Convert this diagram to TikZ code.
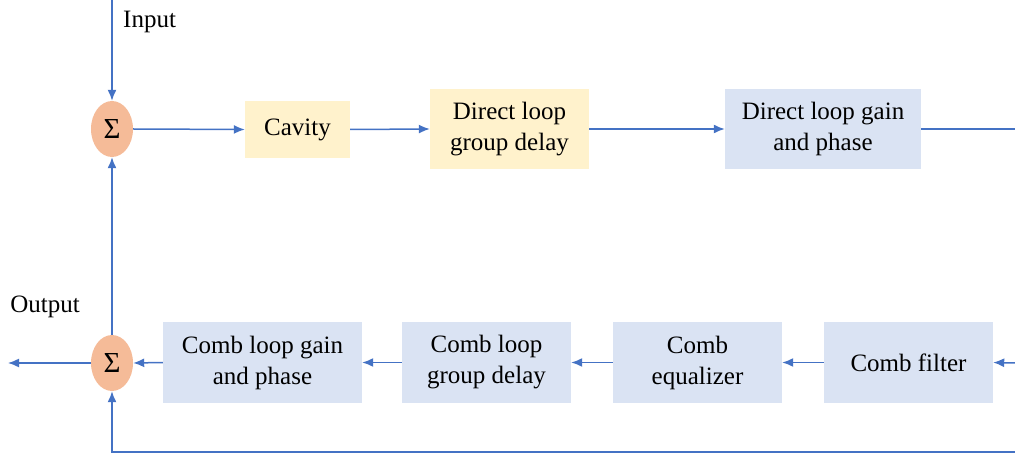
\documentclass[tikz,border=0pt]{standalone}
\usepackage{fontspec}
\newfontfamily\diagfont{Liberation Serif}
\usetikzlibrary{shapes.geometric,arrows.meta}
\definecolor{wire}{HTML}{4472C4}
\definecolor{sumfill}{HTML}{F5BB98}
\definecolor{yellowbox}{HTML}{FFF2CC}
\definecolor{bluebox}{HTML}{DAE3F3}
\tikzset{
  blk/.style={draw=none, align=center, inner sep=0pt,
    font=\diagfont\fontsize{25}{31}\selectfont},
  ybox/.style={blk, fill=yellowbox},
  bbox/.style={blk, fill=bluebox},
  summer/.style={ellipse, fill=sumfill, draw=none, minimum width=42pt,
    minimum height=56pt, inner sep=0pt, font=\diagfont\fontsize{29}{30}\selectfont},
  lbl/.style={font=\diagfont\fontsize{25}{30}\selectfont, inner sep=0pt},
  wireline/.style={draw=wire, line width=1.5pt},
  flow/.style={wireline, -{Latex[length=11pt,width=9pt]}}
}
\begin{document}
\begin{tikzpicture}[x=1pt,y=-1pt]
  \useasboundingbox (0,0) rectangle (1015,454);

  % summing junctions
  \node[summer] (s1) at (112,129) {Σ};
  \node[summer] (s2) at (112,363) {Σ};

  % direct loop
  \node[ybox, minimum width=105pt, minimum height=57pt] (cav) at (297.5,129.5) {Cavity};
  \node[ybox, minimum width=159pt, minimum height=80pt] (dgd) at (509.5,129) {Direct loop\\group delay};
  \node[bbox, minimum width=196pt, minimum height=80pt] (dgp) at (823,129) {Direct loop gain\\and phase};

  % comb loop
  \node[bbox, minimum width=169pt, minimum height=81pt] (cf) at (908.5,362.5) {Comb filter};
  \node[bbox, minimum width=169pt, minimum height=81pt] (ceq) at (697.5,362.5) {Comb\\equalizer};
  \node[bbox, minimum width=169pt, minimum height=81pt] (cgd) at (486.5,362.5) {Comb loop\\group delay};
  \node[bbox, minimum width=199pt, minimum height=81pt] (cgp) at (262.5,362.5) {Comb loop gain\\and phase};

  % labels
  \node[lbl, anchor=west] (inlbl) at (123,22) {Input};
  \node[lbl] (outlbl) at (45,307) {Output};

  % open ends
  \coordinate (intop) at (112,0);
  \coordinate (outend) at (8,363);
  \coordinate (rtop) at (1015,129);
  \coordinate (rmid) at (1015,363);
  \coordinate (rbot) at (1015,452);
  \coordinate (lbot) at (112,452);

  % connectors
  \draw[flow] (intop) -- (s1.north);
  \draw[flow] (s1.east) -- (cav.west);
  \draw[flow] (cav.east) -- (dgd.west);
  \draw[flow] (dgd.east) -- (dgp.west);
  \draw[wireline] (dgp.east) -- (rtop);
  \draw[flow] (rmid) -- (cf.east);
  \draw[flow] (cf.west) -- (ceq.east);
  \draw[flow] (ceq.west) -- (cgd.east);
  \draw[flow] (cgd.west) -- (cgp.east);
  \draw[flow] (cgp.west) -- (s2.east);
  \draw[flow] (s2.west) -- (outend);
  \draw[flow] (s2.north) -- (s1.south);
  \draw[flow] (rbot) -- (lbot) -- (s2.south);
\end{tikzpicture}
\end{document}
